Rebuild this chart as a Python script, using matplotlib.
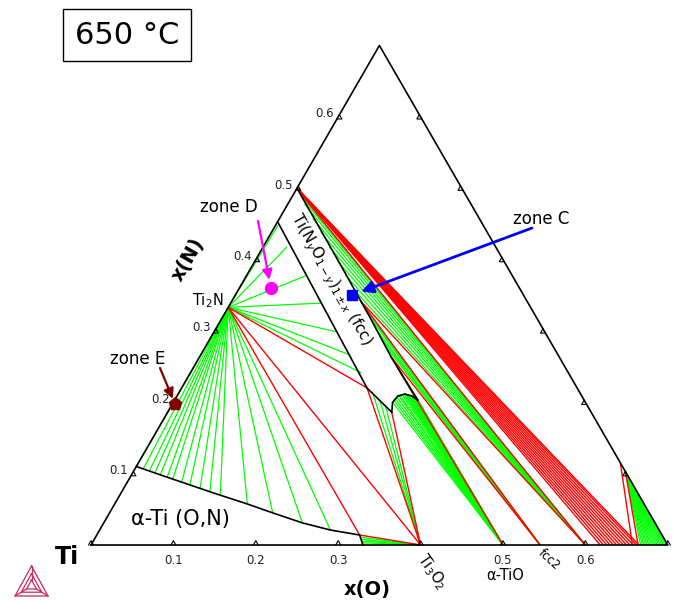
import numpy as np
import matplotlib.pyplot as plt

W, H = 678, 602
S3 = np.sqrt(3) / 2

# key compositions as (x(O), x(N))
TI2N = (0.0, 0.333)
TIN = (0.0, 0.5)
TI3O2 = (0.4, 0.0)
TIO = (0.5, 0.0)
FCC2 = (0.545, 0.0)
TI2O3 = (0.6, 0.0)
GAS = (0.597, 0.103)

# phase boundaries (black)
alpha_o = [0.0, 0.045, 0.112, 0.161, 0.198, 0.241, 0.28, 0.319, 0.33]
alpha_n = [0.11, 0.095, 0.073, 0.0575, 0.045, 0.031, 0.021, 0.014, 0.0]
fcc_left_o = [0.0, 0.225, 0.272]
fcc_left_n = [0.453, 0.22, 0.186]
lens_o = [0.272, 0.266, 0.268, 0.275, 0.285, 0.295]
lens_n = [0.186, 0.200, 0.2088, 0.2116, 0.2088, 0.203]
fcc_right_o = [0.0, 0.12, 0.18, 0.232, 0.295]
fcc_right_n = [0.5, 0.379, 0.318, 0.264, 0.203]

# green tie lines, fans from one composition
ti2n_alpha = [(0.0, 0.11), (0.010, 0.1065), (0.019, 0.1037), (0.027, 0.101), (0.035, 0.098),
              (0.045, 0.095), (0.053, 0.0925), (0.066, 0.088), (0.078, 0.084), (0.093, 0.0785),
              (0.107, 0.0745), (0.122, 0.070), (0.161, 0.0575), (0.198, 0.045), (0.241, 0.031),
              (0.28, 0.021)]
ti2n_fcc = [(0.003, 0.448), (0.029, 0.418), (0.073, 0.378), (0.111, 0.339), (0.150, 0.2985),
            (0.182, 0.266), (0.208, 0.241)]
ti3o2_alpha = [(0.321, 0.011), (0.323, 0.008), (0.325, 0.0055), (0.328, 0.003)]
ti3o2_fcc = [(0.237, 0.211), (0.249, 0.203), (0.260, 0.195)]
tio_fcc = [(0.266, 0.200), (0.266, 0.203), (0.267, 0.205), (0.268, 0.207), (0.269, 0.209),
           (0.270, 0.210), (0.272, 0.211), (0.274, 0.2113), (0.275, 0.2116), (0.277, 0.2113),
           (0.278, 0.211), (0.280, 0.2105), (0.281, 0.210), (0.283, 0.2095), (0.284, 0.209),
           (0.286, 0.208), (0.287, 0.207), (0.289, 0.2065), (0.290, 0.206), (0.292, 0.205),
           (0.293, 0.204), (0.295, 0.203), (0.289, 0.209), (0.283, 0.215), (0.277, 0.221),
           (0.27, 0.227), (0.264, 0.233), (0.258, 0.239), (0.251, 0.245), (0.245, 0.252)]
fcc2_fcc = [(0.22, 0.277), (0.207, 0.29), (0.193, 0.304), (0.18, 0.318), (0.167, 0.331)]
ti2o3_fcc = [(0.14, 0.358), (0.12, 0.378), (0.10, 0.398), (0.08, 0.418), (0.06, 0.438),
             (0.04, 0.458), (0.02, 0.478), (0.01, 0.489)]
gas_bottom_o = [0.667, 0.669, 0.671, 0.673, 0.675, 0.677, 0.679, 0.681, 0.683, 0.685,
                0.687, 0.689, 0.691, 0.693, 0.695, 0.697, 0.699]

# red three-phase triangle edges
magneli_o = [0.618, 0.622, 0.626, 0.63, 0.634, 0.638, 0.642, 0.646, 0.65, 0.654, 0.658,
             0.662, 0.665]
red_lines = [
    (TI2N, (0.319, 0.014)), (TI2N, TI3O2), (TI2N, (0.225, 0.22)),
    ((0.319, 0.014), TI3O2), ((0.225, 0.22), TI3O2), ((0.272, 0.186), TI3O2),
    ((0.232, 0.264), TIO), ((0.232, 0.264), FCC2), ((0.155, 0.343), FCC2),
    ((0.155, 0.343), TI2O3), ((0.005, 0.495), TI2O3),
    ((0.585, 0.115), (0.657, 0.0)), ((0.597, 0.103), (0.664, 0.0)),
]

# marked zones
zone_c = (0.1416, 0.3503)
zone_d = (0.0383, 0.3601)
zone_e = (0.0031, 0.1976)

ticks = [0.1, 0.2, 0.3, 0.4, 0.5, 0.6]


def tern(o, n):
    return o + n / 2, n * S3


def fp(x, y):
    # image pixel -> figure fraction
    return x / W, 1 - y / H


fig = plt.figure(figsize=(W / 100, H / 100), dpi=100)
ax = fig.add_axes([0, 0, 1, 1])
ax.set_xlim(-91 / 824, (W - 91) / 824)
ax.set_ylim((545 - H) / 824, 545 / 824)
ax.axis('off')


def seg(p, q, **kw):
    x0, y0 = tern(*p)
    x1, y1 = tern(*q)
    ax.plot([x0, x1], [y0, y1], solid_capstyle='butt', **kw)


green = dict(color='#00ff00', lw=0.9, zorder=2)
red = dict(color='#ff0000', lw=1.0, zorder=3)

for p in ti2n_alpha + ti2n_fcc:
    seg(TI2N, p, **green)
for p in ti3o2_alpha + ti3o2_fcc:
    seg(TI3O2, p, **green)
for p in tio_fcc:
    seg(TIO, p, **green)
for p in fcc2_fcc:
    seg(FCC2, p, **green)
for p in ti2o3_fcc:
    seg(TI2O3, p, **green)
for o in gas_bottom_o:
    seg(GAS, (o, 0.0), **green)

for o in magneli_o:
    seg(TIN, (o, 0.0), **red)
for p, q in red_lines:
    seg(p, q, **red)

black = dict(color='black', lw=1.2, zorder=4)
for os_, ns_ in [(alpha_o, alpha_n), (fcc_left_o, fcc_left_n), (lens_o, lens_n),
                 (fcc_right_o, fcc_right_n)]:
    x, y = tern(np.array(os_), np.array(ns_))
    ax.plot(x, y, **black)

# triangle frame
fx, fy = tern(np.array([0, 0.7, 0, 0]), np.array([0, 0, 0.7, 0]))
ax.plot(fx, fy, color='black', lw=1.2, zorder=5)

# caret ticks on the three edges
d = 5 / 824
def caret(o, n, tang, norm):
    x, y = tern(o, n)
    tx, ty = tang
    nx, ny = norm
    ax.plot([x - tx * d / 2, x + nx * d * S3, x + tx * d / 2],
            [y - ty * d / 2, y + ny * d * S3, y + ty * d / 2], color='black', lw=0.8, zorder=5)

for t in [0.0] + ticks + [0.7]:
    caret(t, 0.0, (1, 0), (0, 1))
for t in ticks:
    caret(0.0, t, (0.5, S3), (S3, -0.5))
    caret(0.7 - t, t, (-0.5, S3), (-S3, -0.5))

# tick labels
for t in [0.1, 0.2, 0.3, 0.5, 0.6]:
    ax.annotate(f'{t:.1f}', xy=tern(t, 0.0), xytext=(0, -16), textcoords='offset pixels',
                ha='center', va='center', fontsize=8.5, color='#222222')
for t in ticks:
    ax.annotate(f'{t:.1f}', xy=tern(0.0, t), xytext=(-4, 3), textcoords='offset pixels',
                ha='right', va='center', fontsize=8.5, color='#222222')

# markers and arrows
ax.plot(*tern(*zone_c), marker='s', ms=7, color='#0000ff', zorder=7)
ax.plot(*tern(*zone_d), marker='o', ms=8.5, color='#ff00ff', zorder=7)
ax.plot(*tern(*zone_e), marker='p', ms=9.5, color='#800000', zorder=7)

ax.annotate('', xy=tern(*zone_c), xytext=(532, H - 228), textcoords='figure pixels',
            arrowprops=dict(arrowstyle='-|>', color='#0000ff', lw=2, mutation_scale=18,
                            shrinkA=0, shrinkB=7), zorder=8)
ax.annotate('', xy=tern(*zone_d), xytext=(258, H - 221), textcoords='figure pixels',
            arrowprops=dict(arrowstyle='-|>', color='#ff00ff', lw=1.6, mutation_scale=15,
                            shrinkA=0, shrinkB=6), zorder=8)
ax.annotate('', xy=tern(*zone_e), xytext=(160, H - 368), textcoords='figure pixels',
            arrowprops=dict(arrowstyle='-|>', color='#800000', lw=1.6, mutation_scale=15,
                            shrinkA=0, shrinkB=4), zorder=8)

# texts
fig.text(*fp(127, 35), '650 °C', fontsize=22, ha='center', va='center',
         bbox=dict(boxstyle='square,pad=0.38', fc='white', ec='black', lw=1))
fig.text(*fp(541, 219), 'zone C', fontsize=12, ha='center', va='center')
fig.text(*fp(229, 207), 'zone D', fontsize=12, ha='center', va='center')
fig.text(*fp(138, 359), 'zone E', fontsize=12, ha='center', va='center')
fig.text(*fp(67, 557), 'Ti', fontsize=17, fontweight='bold', ha='center', va='center')
fig.text(*fp(367, 589), 'x(O)', fontsize=14, fontweight='bold', ha='center', va='center')
fig.text(*fp(188, 260), 'x(N)', fontsize=14, fontweight='bold', ha='center', va='center',
         rotation=60)
fig.text(*fp(180, 519), 'α-Ti (O,N)', fontsize=15, ha='center', va='center')
fig.text(*fp(208, 301), r'Ti$_2$N', fontsize=10.5, ha='center', va='center')
fig.text(*fp(432, 572), r'Ti$_3$O$_2$', fontsize=10.5, ha='center', va='center', rotation=-55)
fig.text(*fp(505, 576), 'α-TiO', fontsize=10.5, ha='center', va='center')
fig.text(*fp(549, 560), 'fcc2', fontsize=8.5, ha='center', va='center', rotation=-42)
fig.text(*fp(331, 280), r'Ti(N$_y$O$_{1-y}$)$_{1\pm x}$ (fcc)', fontsize=11,
         ha='center', va='center', rotation=-60.5)

# small logo, bottom left
lc = '#c8285a'
cx, cy = 31.5, 586
outer = [(31.5, 566), (15, 596), (48, 596)]
for k in (1.0, 0.62, 0.3):
    pts = [(cx + (x - cx) * k, cy + (y - cy) * k) for x, y in outer] + \
          [(cx + (outer[0][0] - cx) * k, cy + (outer[0][1] - cy) * k)]
    xs, ys = zip(*[fp(x, y) for x, y in pts])
    fig.add_artist(plt.Line2D(xs, ys, color=lc, lw=0.9, transform=fig.transFigure))
for x, y in outer:
    xs, ys = zip(fp(x, y), fp(cx + (x - cx) * 0.3, cy + (y - cy) * 0.3))
    fig.add_artist(plt.Line2D(xs, ys, color=lc, lw=0.9, transform=fig.transFigure))

fig.savefig('out.png', dpi=100)
